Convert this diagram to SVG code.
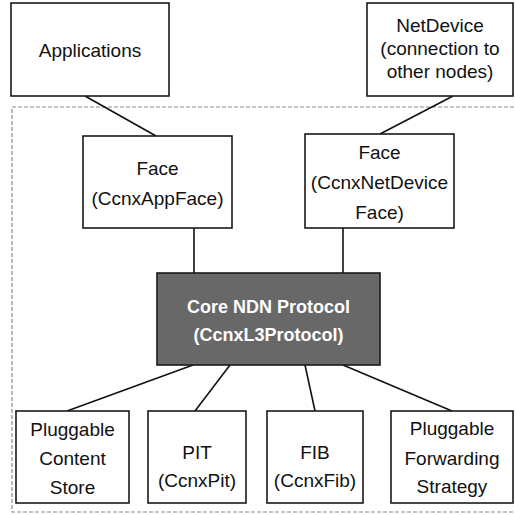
<svg xmlns="http://www.w3.org/2000/svg" width="515" height="515" viewBox="0 0 515 515">
  <style>
    .box { fill: #ffffff; stroke: #1a1a1a; stroke-width: 1.6; }
    .core { fill: #686868; stroke: #1a1a1a; stroke-width: 1.6; }
    .lbl { font-family: "Liberation Sans", Arial, sans-serif; font-size: 19px; fill: #111111; text-anchor: middle; }
    .lbl-core { font-family: "Liberation Sans", Arial, sans-serif; font-size: 18px; font-weight: bold; fill: #ffffff; text-anchor: middle; }
    .wire { stroke: #111111; stroke-width: 1.6; fill: none; }
    .frame { fill: none; stroke: #8a8a8a; stroke-width: 1.2; stroke-dasharray: 4 2; }
  </style>
  <rect width="515" height="515" fill="#ffffff"/>

  <!-- node container boundary -->
  <rect class="frame" x="12" y="107" width="510" height="405"/>

  <!-- connectors -->
  <g id="connectors">
    <line class="wire" x1="85" y1="96" x2="156" y2="136"/>
    <line class="wire" x1="453" y1="96" x2="380" y2="134"/>
    <line class="wire" x1="194" y1="228" x2="194" y2="273"/>
    <line class="wire" x1="343" y1="228" x2="343" y2="273"/>
    <line class="wire" x1="193" y1="365" x2="67" y2="411"/>
    <line class="wire" x1="230" y1="365" x2="195" y2="411"/>
    <line class="wire" x1="305" y1="365" x2="315" y2="411"/>
    <line class="wire" x1="343" y1="365" x2="452" y2="411"/>
  </g>

  <g id="applications">
    <rect class="box" x="11" y="3" width="158" height="93"/>
    <text class="lbl" x="90" y="57">Applications</text>
  </g>

  <g id="netdevice">
    <rect class="box" x="367" y="3" width="146" height="93"/>
    <text class="lbl" x="440" y="32">NetDevice</text>
    <text class="lbl" x="440" y="55">(connection to</text>
    <text class="lbl" x="440" y="78">other nodes)</text>
  </g>

  <g id="face-app">
    <rect class="box" x="83" y="136" width="149" height="92"/>
    <text class="lbl" x="157.5" y="175">Face</text>
    <text class="lbl" x="157.5" y="205">(CcnxAppFace)</text>
  </g>

  <g id="face-netdevice">
    <rect class="box" x="305" y="134" width="149" height="94"/>
    <text class="lbl" x="379.5" y="159">Face</text>
    <text class="lbl" x="379.5" y="189">(CcnxNetDevice</text>
    <text class="lbl" x="379.5" y="219">Face)</text>
  </g>

  <g id="core-protocol">
    <rect class="core" x="157" y="273" width="223" height="92"/>
    <text class="lbl-core" x="268.5" y="313">Core NDN Protocol</text>
    <text class="lbl-core" x="268.5" y="341">(CcnxL3Protocol)</text>
  </g>

  <g id="content-store">
    <rect class="box" x="16" y="411" width="113" height="92"/>
    <text class="lbl" x="72.5" y="436">Pluggable</text>
    <text class="lbl" x="72.5" y="465">Content</text>
    <text class="lbl" x="72.5" y="494">Store</text>
  </g>

  <g id="pit">
    <rect class="box" x="148" y="411" width="98" height="92"/>
    <text class="lbl" x="197" y="459">PIT</text>
    <text class="lbl" x="197" y="487">(CcnxPit)</text>
  </g>

  <g id="fib">
    <rect class="box" x="267" y="411" width="96" height="92"/>
    <text class="lbl" x="315" y="459">FIB</text>
    <text class="lbl" x="315" y="487">(CcnxFib)</text>
  </g>

  <g id="forwarding-strategy">
    <rect class="box" x="391" y="411" width="122" height="92"/>
    <text class="lbl" x="452" y="435">Pluggable</text>
    <text class="lbl" x="452" y="465">Forwarding</text>
    <text class="lbl" x="452" y="493">Strategy</text>
  </g>
</svg>
